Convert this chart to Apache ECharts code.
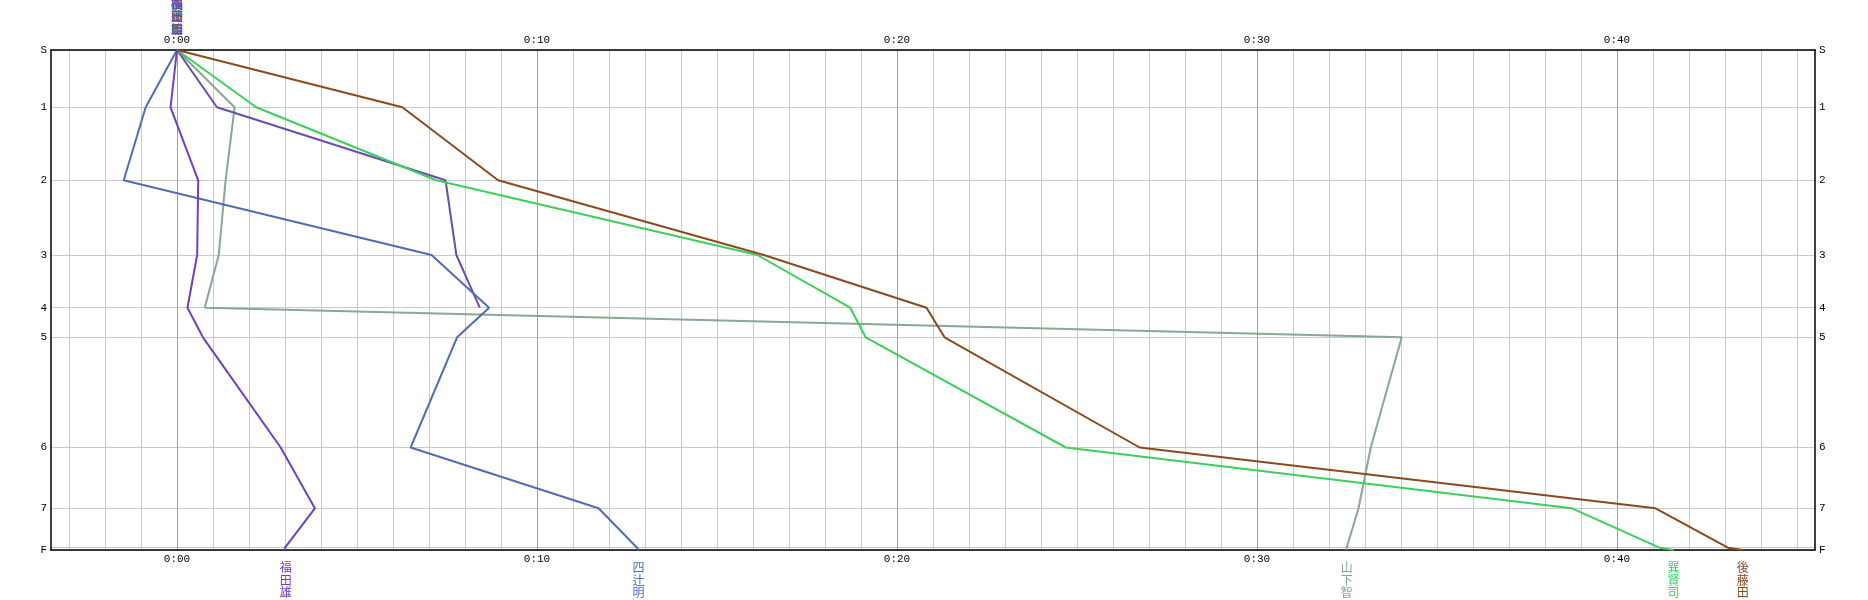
<!DOCTYPE html>
<html>
<head>
<meta charset="utf-8">
<script src="https://cdn.jsdelivr.net/npm/echarts@6/dist/echarts.min.js"></script>
<style>
html,body{margin:0;padding:0;background:#fff;}
#chart{width:1868px;height:600px;}
</style>
</head>
<body>
<div id="chart"></div>
<script>
// Controls (y axis) and their cumulative course position
const controls = ['S', '1', '2', '3', '4', '5', '6', '7', '8', 'F'];
const controlDist = [0, 573, 1303, 2050, 2577, 2873, 3975, 4583, 4977, 5000];

// Time behind reference (minutes) at each control
const runnerNames = ['山下智', '', '巽賢司', '後藤田', '四辻明', '福田雄'];
const yamashita = [0, 1.60, 1.35, 1.16, 0.77, 34.02, 33.16, 32.82, 32.49, 32.49];
const dnfRunner = [0, 1.11, 7.46, 7.76, 8.41];
const tatsumi   = [0, 2.20, 7.20, 16.12, 18.70, 19.13, 24.69, 38.75, 41.18, 41.57];
const gotoda    = [0, 6.26, 8.92, 16.30, 20.82, 21.32, 26.74, 41.07, 43.08, 43.49];
const yotsuji   = [0, -0.87, -1.48, 7.07, 8.67, 7.78, 6.49, 11.71, 12.78, 12.82];
const fukuda    = [0, -0.18, 0.59, 0.56, 0.29, 0.72, 2.88, 3.83, 3.00, 3.02];
const runnerTimes = [yamashita, dnfRunner, tatsumi, gotoda, yotsuji, fukuda];
const runnerColors = ['#88a890', '#6a4cb0', '#3ccf5c', '#8b4a1e', '#4f6db5', '#6f3fc6'];

// x axis ticks (minutes)
const majorMinutes = [0, 10, 20, 30, 40];
const xMin = -3.5, xMax = 45.5;
const minorMinutes = [];
for (let m = -3; m <= 45; m++) minorMinutes.push(m);

const numFont = 'Liberation Mono';
const cjkFont = 'Noto Sans CJK JP';

function fmtTime(v) {
  const m = Math.round(v);
  return '0:' + (m < 10 ? '0' + m : '' + m);
}
function ctrlLabel(v) {
  const i = controlDist.indexOf(v);
  return i >= 0 ? controls[i] : '';
}
function vertical(name) { return name.split('').join('\n'); }

const series = runnerTimes.map((times, k) => {
  const pts = times.map((t, i) => [t, controlDist[i]]);
  const name = runnerNames[k];
  const mp = [];
  if (name) {
    const last = pts[pts.length - 1];
    mp.push({
      coord: pts[0],
      label: { position: 'top', distance: 14 }
    });
    mp.push({
      coord: last,
      label: { position: 'bottom', distance: 11 }
    });
  }
  return {
    type: 'line',
    name: name || 'x',
    data: pts,
    showSymbol: false,
    symbol: 'none',
    silent: true,
    lineStyle: { color: runnerColors[k], width: 2 },
    itemStyle: { color: runnerColors[k] },
    z: 3 + k,
    markPoint: {
      symbol: 'circle',
      symbolSize: 1,
      silent: true,
      itemStyle: { color: 'rgba(0,0,0,0)' },
      label: {
        show: true,
        formatter: vertical(name || ''),
        color: runnerColors[k],
        fontFamily: cjkFont,
        fontSize: 12,
        lineHeight: 12.5
      },
      data: mp
    }
  };
});

const yLabel = { show: true, customValues: controlDist, formatter: ctrlLabel, color: '#000',
                 fontFamily: numFont, fontSize: 11, margin: 4,
                 showMinLabel: true, showMaxLabel: true, hideOverlap: false };

const chart = echarts.init(document.getElementById('chart'), null, { renderer: 'canvas' });
chart.setOption({
  animation: false,
  backgroundColor: '#ffffff',
  grid: { left: 51, right: 53, top: 50, bottom: 50, containLabel: false },
  xAxis: [
    {
      type: 'value', position: 'bottom', min: xMin, max: xMax,
      axisLine: { show: true, onZero: false, lineStyle: { color: '#000', width: 1.5 } },
      axisTick: { show: false, customValues: minorMinutes },
      axisLabel: { show: true, customValues: majorMinutes, formatter: fmtTime, color: '#000',
                   fontFamily: numFont, fontSize: 11, margin: 4 },
      splitLine: { show: true, lineStyle: { color: '#cacaca', width: 1 } }
    },
    {
      type: 'value', position: 'top', min: xMin, max: xMax,
      axisLine: { show: true, onZero: false, lineStyle: { color: '#000', width: 1.5 } },
      axisTick: { show: false, customValues: majorMinutes },
      axisLabel: { show: true, customValues: majorMinutes, formatter: fmtTime, color: '#000',
                   fontFamily: numFont, fontSize: 11, margin: 4 },
      splitLine: { show: true, lineStyle: { color: '#a0a0a0', width: 1 } }
    }
  ],
  yAxis: [
    {
      type: 'value', position: 'left', inverse: true, min: 0, max: 5000,
      axisLine: { show: true, onZero: false, lineStyle: { color: '#000', width: 1.5 } },
      axisTick: { show: false, customValues: controlDist },
      axisLabel: yLabel,
      splitLine: { show: true, lineStyle: { color: '#cacaca', width: 1 } }
    },
    {
      type: 'value', position: 'right', inverse: true, min: 0, max: 5000,
      axisLine: { show: true, onZero: false, lineStyle: { color: '#000', width: 1.5 } },
      axisTick: { show: false, customValues: controlDist },
      axisLabel: yLabel,
      splitLine: { show: false }
    }
  ],
  series: series
});
</script>
</body>
</html>
